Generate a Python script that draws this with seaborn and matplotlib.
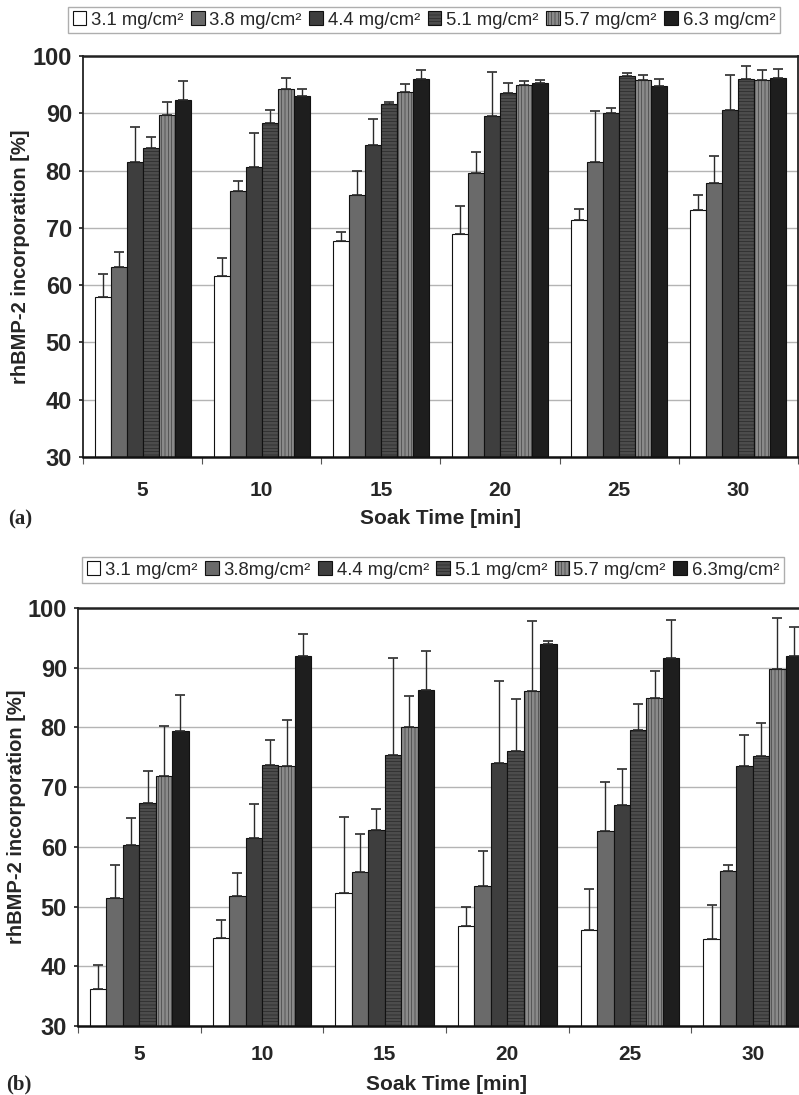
import numpy as np
import pandas as pd
import matplotlib
matplotlib.use("Agg")
import matplotlib.pyplot as plt
import seaborn as sns

# soak times (x categories)
times = [5, 10, 15, 20, 25, 30]

# legend labels as printed in each panel
labels_a = ["3.1 mg/cm²", "3.8 mg/cm²", "4.4 mg/cm²", "5.1 mg/cm²", "5.7 mg/cm²", "6.3 mg/cm²"]
labels_b = ["3.1 mg/cm²", "3.8mg/cm²", "4.4 mg/cm²", "5.1 mg/cm²", "5.7 mg/cm²", "6.3mg/cm²"]

# panel (a): mean incorporation [%] and upper error
a_31 = [58.0, 61.6, 67.7, 68.9, 71.3, 73.1]
a_38 = [63.2, 76.4, 75.7, 79.5, 81.5, 77.8]
a_44 = [81.5, 80.7, 84.5, 89.6, 90.1, 90.5]
a_51 = [83.9, 88.3, 91.6, 93.5, 96.5, 95.9]
a_57 = [89.7, 94.3, 93.8, 94.9, 95.8, 95.8]
a_63 = [92.4, 93.0, 96.0, 95.2, 94.8, 96.1]
a_31_err = [3.9, 3.1, 1.5, 5.0, 2.0, 2.7]
a_38_err = [2.6, 1.7, 4.3, 3.7, 8.9, 4.7]
a_44_err = [6.1, 5.9, 4.5, 7.6, 0.9, 6.2]
a_51_err = [2.0, 2.2, 0.4, 1.7, 0.5, 2.3]
a_57_err = [2.3, 1.9, 1.3, 0.8, 0.9, 1.8]
a_63_err = [3.2, 1.2, 1.5, 0.6, 1.1, 1.7]

# panel (b)
b_31 = [36.2, 44.7, 52.2, 46.8, 46.0, 44.6]
b_38 = [51.4, 51.8, 55.8, 53.4, 62.6, 56.0]
b_44 = [60.3, 61.4, 62.9, 74.0, 67.0, 73.6]
b_51 = [67.4, 73.7, 75.4, 76.1, 79.6, 75.2]
b_57 = [71.9, 73.5, 80.0, 86.1, 85.0, 89.8]
b_63 = [79.4, 92.0, 86.3, 93.9, 91.7, 92.0]
b_31_err = [4.0, 3.1, 12.8, 3.1, 7.0, 5.7]
b_38_err = [5.6, 3.9, 6.4, 5.9, 8.2, 1.0]
b_44_err = [4.6, 5.8, 3.4, 13.8, 6.1, 5.2]
b_51_err = [5.3, 4.2, 16.3, 8.7, 4.3, 5.6]
b_57_err = [8.4, 7.8, 5.3, 11.7, 4.4, 8.6]
b_63_err = [6.1, 3.6, 6.5, 0.5, 6.3, 4.9]

colors = ["#ffffff", "#6a6a6a", "#3e3e3e", "#4c4c4c", "#8a8a8a", "#1e1e1e"]
hatches = [None, None, None, "-----", "|||||", None]

sns.set_theme(style="white")
plt.rcParams["font.family"] = ["Liberation Sans", "DejaVu Sans"]
plt.rcParams["hatch.linewidth"] = 0.3


def long_frame(means, errs, labels):
    rows = []
    for lab, m, e in zip(labels, means, errs):
        for t, v, s in zip(times, m, e):
            rows.append({"time": t, "dose": lab, "value": v, "err": s})
    return pd.DataFrame(rows)


def draw_panel(ax, df, labels, tick_pad, ylab_x, xlab_y):
    sns.barplot(data=df, x="time", y="value", hue="dose", hue_order=labels,
                palette=colors, width=0.805, errorbar=None, edgecolor="#111111",
                linewidth=0.8, ax=ax)
    # one-sided error bars on top of each bar
    for lab, cont, h in zip(labels, ax.containers, hatches):
        sub = df[df["dose"] == lab]
        xs = [p.get_x() + p.get_width() / 2 for p in cont.patches]
        ys = [p.get_height() for p in cont.patches]
        ax.errorbar(xs, ys, yerr=[np.zeros(len(xs)), sub["err"].values],
                    fmt="none", ecolor="#2a2a2a", elinewidth=1.0, capsize=3.5,
                    capthick=1.2, zorder=1)
        if h:
            for p in cont.patches:
                p.set_hatch(h)
    ax.set_ylim(30, 100)
    ax.set_yticks(range(30, 101, 10))
    ax.yaxis.grid(True, color="#b4b4b4", linewidth=1.0)
    ax.set_axisbelow(True)
    ax.set_xlim(-0.5, len(times) - 0.5)
    ax.set_xticks(range(len(times)))
    ax.set_xticklabels([str(t) for t in times])
    ax.set_xticks(np.arange(-0.5, len(times), 1.0), minor=True)
    ax.tick_params(axis="x", which="major", length=0, pad=tick_pad, labelsize=15)
    ax.tick_params(axis="x", which="minor", length=5, width=0.8, color="#555555", bottom=True)
    ax.tick_params(axis="y", length=3, left=True, pad=5, labelsize=17)
    for t in ax.get_xticklabels() + ax.get_yticklabels():
        t.set_fontweight("bold")
    ax.set_ylabel("rhBMP-2 incorporation [%]", fontsize=14.5, fontweight="bold")
    ax.set_xlabel("Soak Time [min]", fontsize=15, fontweight="bold")
    ax.yaxis.label.set_va("center")
    ax.xaxis.label.set_va("center")
    ax.yaxis.set_label_coords(ylab_x, 0.5)
    ax.xaxis.set_label_coords(0.5, xlab_y)
    for side in ["left", "right", "top"]:
        ax.spines[side].set_color("#222222")
        ax.spines[side].set_linewidth(1.3)
    ax.spines["bottom"].set_color("#111111")
    ax.spines["bottom"].set_linewidth(1.8)
    ax.spines["top"].set_linewidth(1.8)
    if ax.get_legend() is not None:
        ax.get_legend().remove()


df_a = long_frame([a_31, a_38, a_44, a_51, a_57, a_63],
                  [a_31_err, a_38_err, a_44_err, a_51_err, a_57_err, a_63_err], labels_a)
df_b = long_frame([b_31, b_38, b_44, b_51, b_57, b_63],
                  [b_31_err, b_38_err, b_44_err, b_51_err, b_57_err, b_63_err], labels_b)

fig = plt.figure(figsize=(7.99, 10.95), dpi=100)
ax_a = fig.add_axes([83 / 799, 1 - 457 / 1095, 715 / 799, 401 / 1095])
ax_b = fig.add_axes([78 / 799, 1 - 1026 / 1095, 736 / 799, 418 / 1095])

draw_panel(ax_a, df_a, labels_a, tick_pad=17, ylab_x=(21 - 83) / 715, xlab_y=(457 - 518) / 401)
draw_panel(ax_b, df_b, labels_b, tick_pad=14, ylab_x=(17 - 78) / 736, xlab_y=(1026 - 1085) / 418)

for ax, labels, anchor in [(ax_a, labels_a, (68 / 799, 1 - 20 / 1095)),
                           (ax_b, labels_b, (82 / 799, 1 - 570 / 1095))]:
    handles = [plt.Rectangle((0, 0), 1, 1, facecolor=c, edgecolor="#111111",
                             linewidth=0.8, hatch=h) for c, h in zip(colors, hatches)]
    leg = ax.legend(handles, labels, loc="center left", bbox_to_anchor=anchor,
                    bbox_transform=fig.transFigure, ncol=6, fontsize=13.3,
                    handlelength=0.75, handleheight=0.75, handletextpad=0.25,
                    columnspacing=0.4, borderpad=0.25, borderaxespad=0,
                    fancybox=False, frameon=True)
    leg.get_frame().set_edgecolor("#9a9a9a")
    leg.get_frame().set_linewidth(1.0)

fig.text(8 / 799, 1 - 519 / 1095, "(a)", fontsize=15, fontweight="bold",
         family=["Liberation Serif", "DejaVu Serif"], va="center", ha="left")
fig.text(6 / 799, 1 - 1084 / 1095, "(b)", fontsize=15, fontweight="bold",
         family=["Liberation Serif", "DejaVu Serif"], va="center", ha="left")

fig.savefig("out.png", dpi=100)
